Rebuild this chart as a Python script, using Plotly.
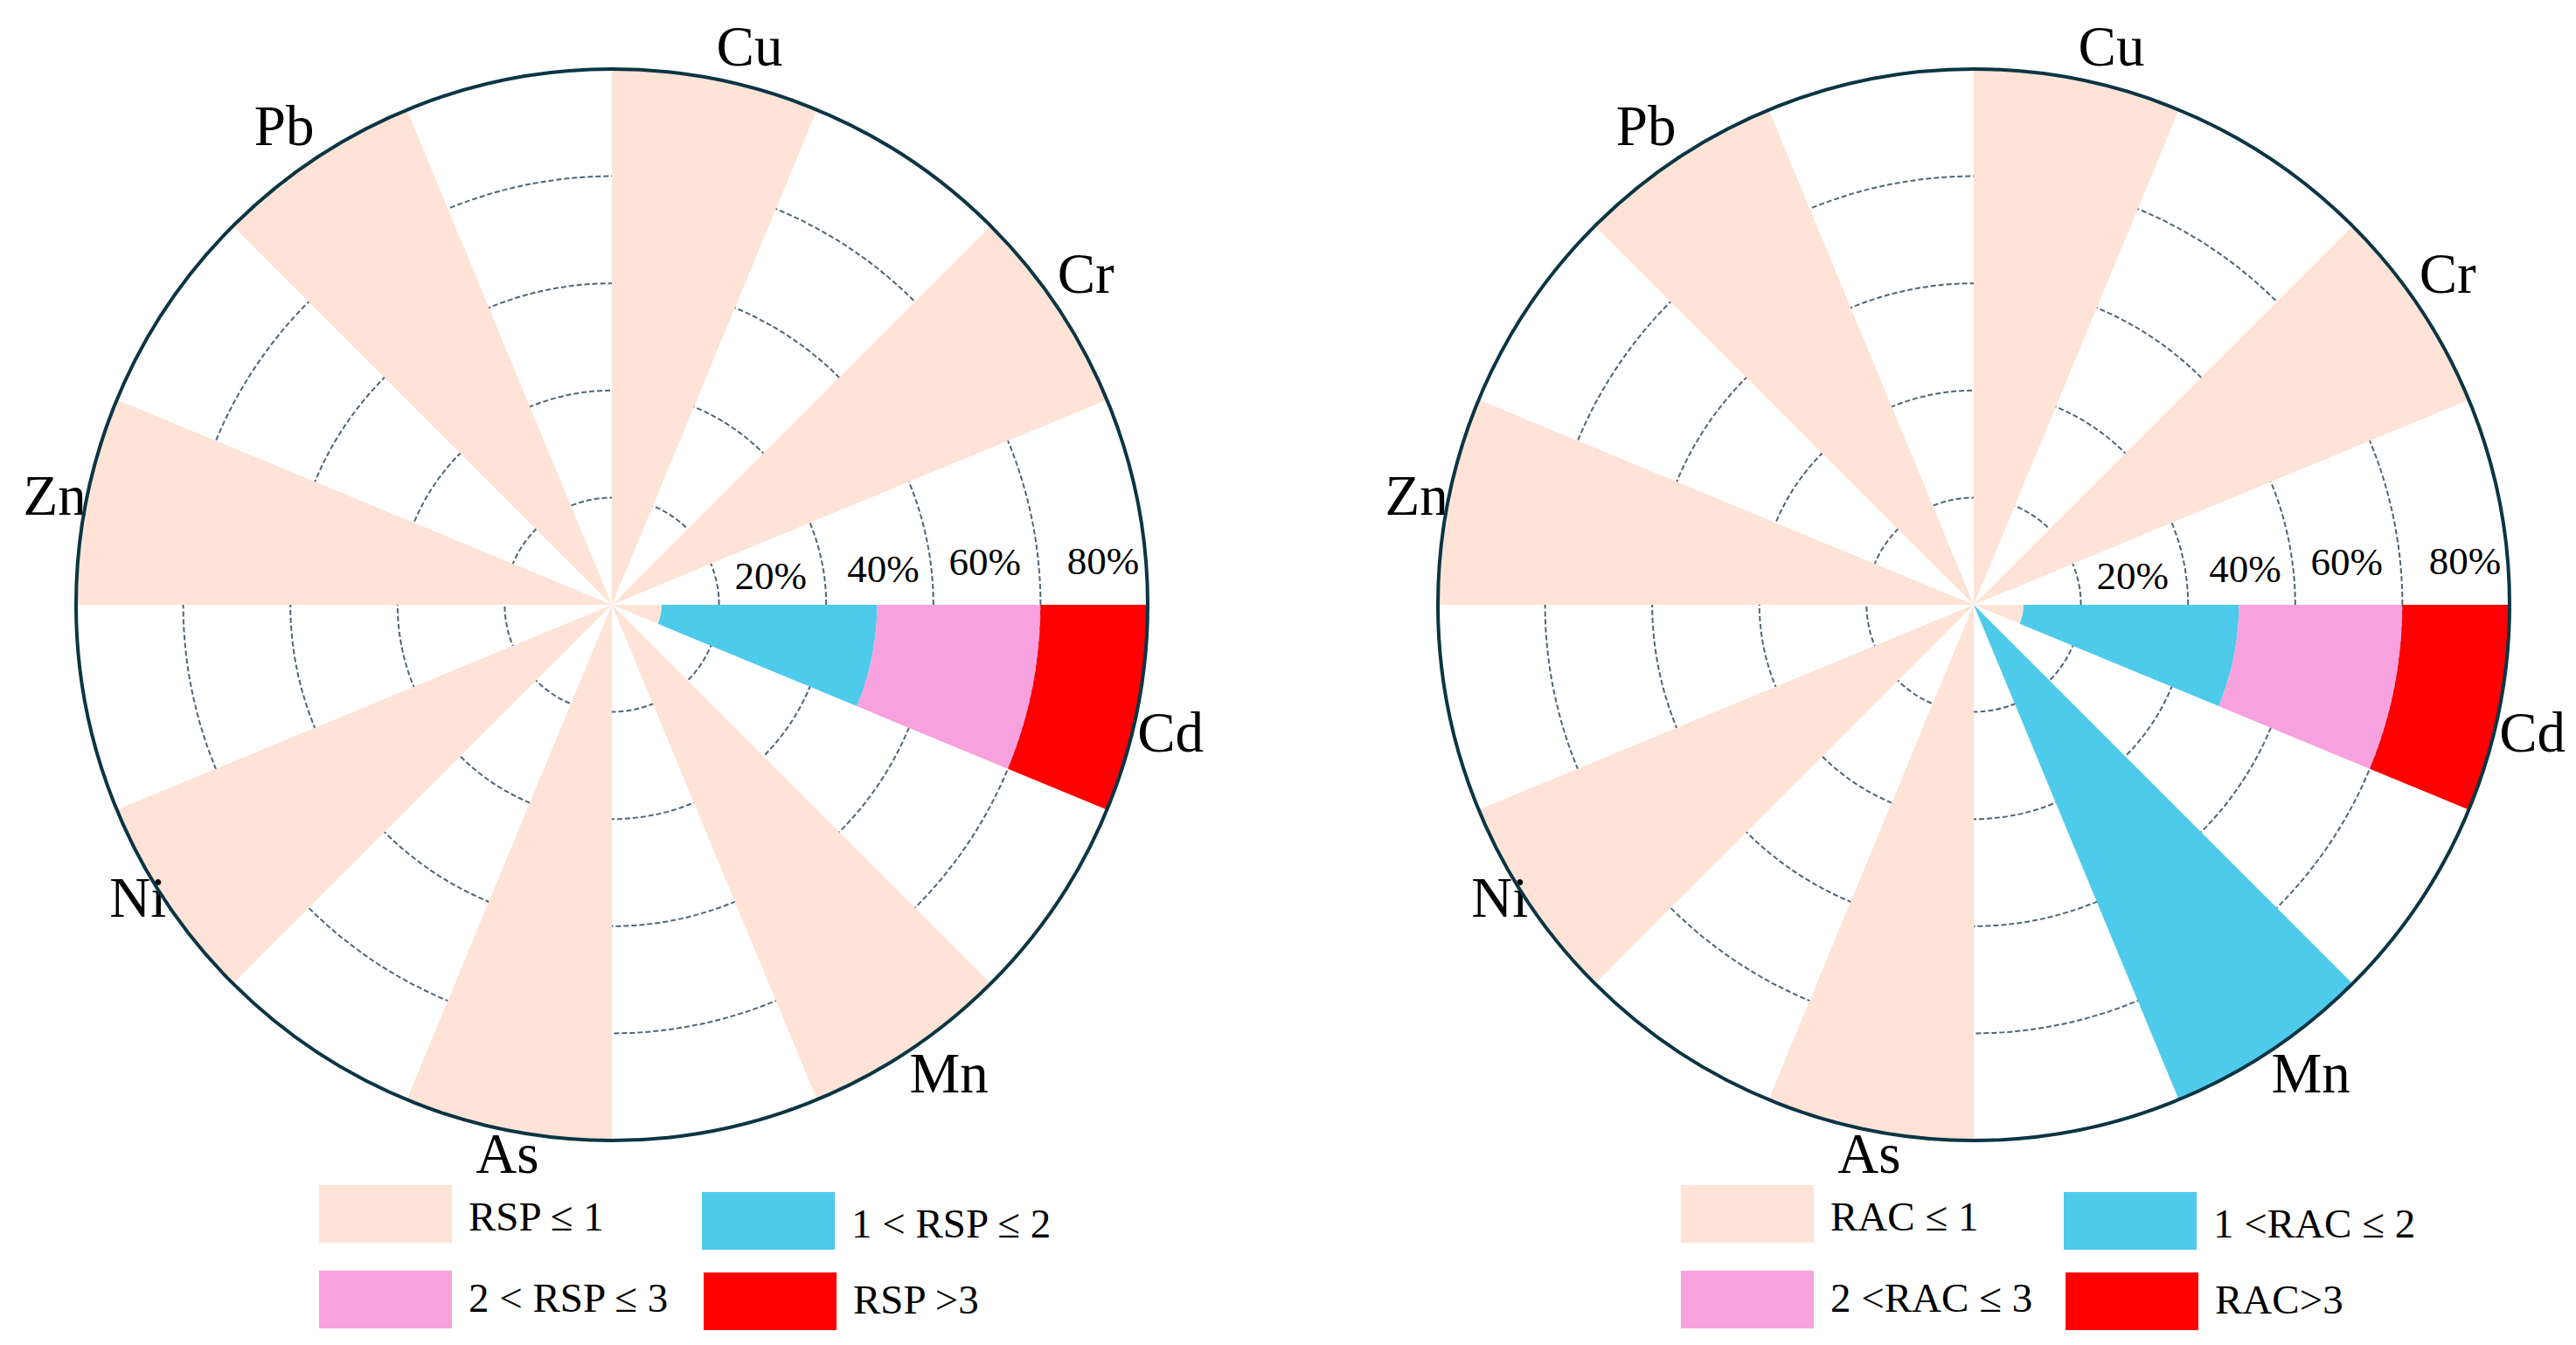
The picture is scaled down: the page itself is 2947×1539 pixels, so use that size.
import plotly.graph_objects as go

# Elemente (im Uhrzeigersinn, beginnend oben)
elements = ["Cu", "Cr", "Cd", "Mn", "As", "Ni", "Zn", "Pb"]

# Anteile der Proben je Klasse (%) - RSP
rsp_le1 = [100, 100, 9.3, 100, 100, 100, 100, 100]
rsp_1_2 = [0, 0, 40.2, 0, 0, 0, 0, 0]
rsp_2_3 = [0, 0, 30.5, 0, 0, 0, 0, 0]
rsp_gt3 = [0, 0, 20.0, 0, 0, 0, 0, 0]

# Anteile der Proben je Klasse (%) - RAC
rac_le1 = [100, 100, 9.3, 0, 100, 100, 100, 100]
rac_1_2 = [0, 0, 40.2, 100, 0, 0, 0, 0]
rac_2_3 = [0, 0, 30.5, 0, 0, 0, 0, 0]
rac_gt3 = [0, 0, 20.0, 0, 0, 0, 0, 0]

rsp_labels = ["RSP \u2264 1", "1 < RSP \u2264 2", "2 < RSP \u2264 3", "RSP >3"]
rac_labels = ["RAC \u2264 1", "1 <RAC \u2264 2", "2 <RAC \u2264 3", "RAC>3"]

radial_ticks = [20, 40, 60, 80]
radial_ticktext = ["20%", "40%", "60%", "80%"]

colors = ["#FEE3D6", "#4ECBEB", "#F7A1DE", "#FF0000"]
FONT = "Liberation Serif"
W, H = 2947, 1539

step = 360 / len(elements)
theta = [i * step for i in range(len(elements))]
ROT = 78.75

# Positionen der Beschriftungen (nur Layout)
elem_textpos = ["top right", "top right", "bottom right", "bottom right",
                "bottom center", "middle left", "middle left", "top left"]
pct_label_r = [30, 51, 70, 92]
pct_label_ang = [9, 6.8, 6, 4.7]

fig = go.Figure()

panels = [
    ("polar", [rsp_le1, rsp_1_2, rsp_2_3, rsp_gt3], rsp_labels, 692),
    ("polar2", [rac_le1, rac_1_2, rac_2_3, rac_gt3], rac_labels, 2250),
]

for sub, series, labels, cx in panels:
    for vals, col, name in zip(series, colors, labels):
        fig.add_trace(go.Barpolar(
            r=vals, theta=theta, width=step / 2, name=name,
            marker=dict(color=col, line=dict(width=0)),
            subplot=sub, showlegend=False,
        ))
    # Prozent-Beschriftung der Ringe (leicht versetzt wie im Original)
    fig.add_trace(go.Scatterpolar(
        r=pct_label_r, theta=[ROT - a for a in pct_label_ang],
        mode="text", text=radial_ticktext, cliponaxis=False,
        textfont=dict(family=FONT, size=45, color="black"),
        subplot=sub, showlegend=False, hoverinfo="skip",
    ))
    # Elementnamen am Kreisrand
    fig.add_trace(go.Scatterpolar(
        r=[100] * len(elements), theta=theta,
        mode="text", text=elements, textposition=elem_textpos, cliponaxis=False,
        textfont=dict(family=FONT, size=65, color="black"),
        subplot=sub, showlegend=False, hoverinfo="skip",
    ))

cy = 684
R = 613
polar_common = dict(
    bgcolor="white",
    barmode="stack",
    radialaxis=dict(
        range=[0, 100], tickvals=radial_ticks, showticklabels=False, ticks="",
        showline=False, showgrid=True, gridcolor="#4f6574", gridwidth=2,
        griddash="6px,3px", layer="below traces",
    ),
    angularaxis=dict(
        rotation=ROT, direction="clockwise", tickmode="array",
        tickvals=theta, showticklabels=False, ticks="", showgrid=False,
        showline=True, linecolor="#0b3544", linewidth=4, layer="above traces",
    ),
)

layout_polars = {}
for sub, _, _, cx in panels:
    d = dict(polar_common)
    d["domain"] = dict(x=[(cx - R) / W, (cx + R) / W], y=[(H - cy - R) / H, (H - cy + R) / H])
    layout_polars[sub] = d

# Legende als große Farbfelder unter jedem Diagramm
shapes = []
annotations = []
sw_w, sw_h = 152, 66
offsets = [(-335, 1348, 1384), (103, 1356, 1392), (-335, 1446, 1477), (105, 1448, 1479)]
for sub, _, labels, cx in panels:
    for (dx, y0, ty), col, name in zip(offsets, colors, labels):
        x0 = cx + dx
        shapes.append(dict(
            type="rect", xref="paper", yref="paper",
            x0=x0 / W, x1=(x0 + sw_w) / W, y0=1 - (y0 + sw_h) / H, y1=1 - y0 / H,
            fillcolor=col, line=dict(width=0),
        ))
        annotations.append(dict(
            xref="paper", yref="paper", x=(x0 + sw_w + 17) / W, y=1 - ty / H,
            text=name, showarrow=False, xanchor="left", yanchor="middle",
            font=dict(family=FONT, size=47, color="black"),
        ))

fig.update_layout(
    width=W, height=H,
    margin=dict(l=0, r=0, t=0, b=0),
    paper_bgcolor="white",
    font=dict(family=FONT, color="black"),
    shapes=shapes,
    annotations=annotations,
    **layout_polars,
)

fig.write_html("out.html")
